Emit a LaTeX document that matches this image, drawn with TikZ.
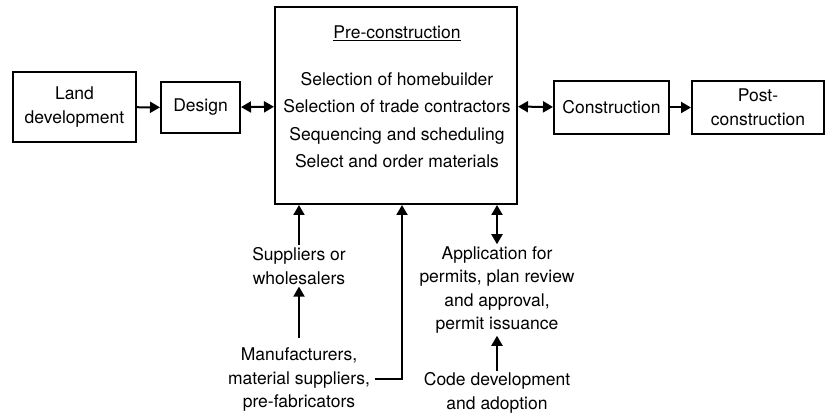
\documentclass[tikz,border=0pt]{standalone}
\usepackage{fontspec}
\setmainfont{TeX Gyre Heros}
\usetikzlibrary{arrows.meta}

\begin{document}
\begin{tikzpicture}[x=1pt, y=-1pt,
	box/.style={shape=rectangle, draw=black, line width=2pt, align=center, inner sep=0pt},
	txt/.style={align=center, inner sep=2pt},
	arr/.style={line width=2pt, -{Triangle[length=10pt,width=11pt]}},
	darr/.style={line width=2pt, {Triangle[length=10pt,width=11pt]}-{Triangle[length=10pt,width=11pt]}}]
	
	\useasboundingbox (0,0) rectangle (825,419);
	\fontsize{17.5}{23.5}\selectfont
	
	\node[box, minimum width=123pt, minimum height=70pt] (land) at (74.5, 107)   {Land\\development};
	\node[box, minimum width=79pt, minimum height=51pt]  (design) at (200.5, 107.5) {Design};
	\node[box, minimum width=242pt, minimum height=197pt] (pre) at (396, 105.5) {};
	\node[box, minimum width=115pt, minimum height=53pt] (constr) at (611.5, 107.5) {Construction};
	\node[box, minimum width=132pt, minimum height=53pt] (post) at (758, 107.5) {Post-\\construction};
	
	\node[txt] (title) at (397, 33) {\underline{Pre-construction}};
	\node[txt, font=\fontsize{17.5}{27.3}\selectfont] (list) at (397, 120)
		{Selection of homebuilder\\Selection of trade contractors\\Sequencing and scheduling\\Select and order materials};
	
	\node[txt] (sup) at (299, 266)  {Suppliers or\\wholesalers};
	\node[txt, inner sep=5pt] (man) at (299, 380)  {Manufacturers,\\material suppliers,\\pre-fabricators};
	\node[txt] (app) at (497, 290)  {Application for\\permits, plan review\\and approval,\\permit issuance};
	\node[txt] (code) at (497, 393) {Code development\\and adoption};
	\coordinate (bend) at (402, 379);
	
	\path[arr]  (land) edge (design);
	\path[darr] (design) edge (pre);
	\path[darr] (pre) edge (constr);
	\path[arr]  (constr) edge (post);
	
	\draw[arr]  (sup.north) -- (sup.north |- pre.south);
	\draw[arr]  ([yshift=5pt]man.north) -- (sup.south);
	\draw[arr]  (man.east |- bend) -- (bend) -- (bend |- pre.south);
	\draw[darr] (app.north) -- (app.north |- pre.south);
	\draw[arr]  (code.north) -- (app.south);

\end{tikzpicture}
\end{document}
